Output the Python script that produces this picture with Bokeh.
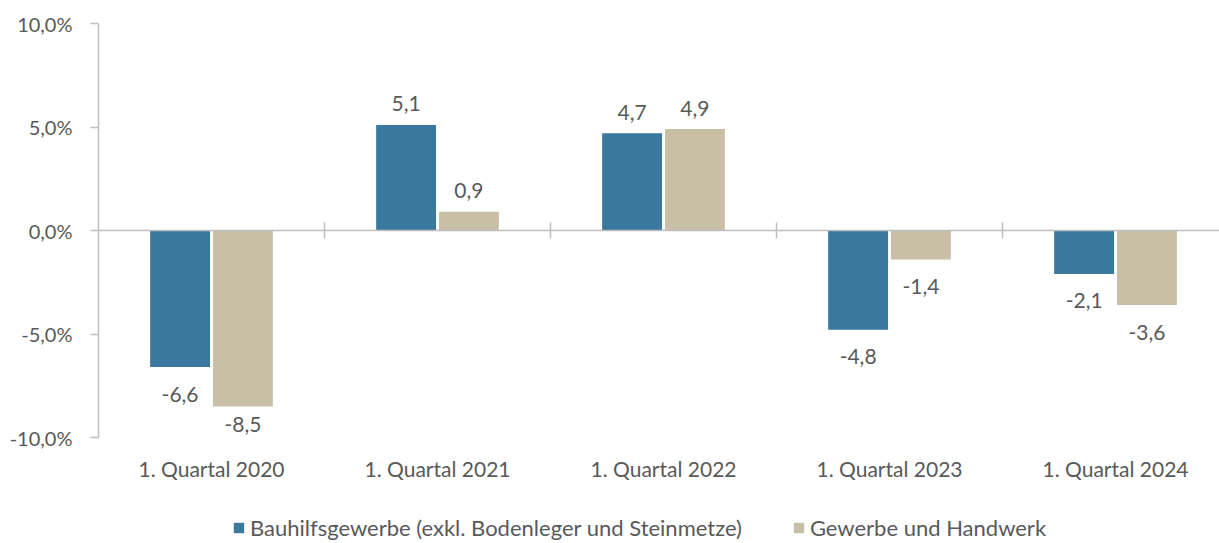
import math
from bokeh.plotting import figure
from bokeh.models import (ColumnDataSource, Range1d, FixedTicker, LabelSet, Legend,
                          LegendItem, Span, LinearAxis)
from bokeh.core.properties import value
from bokeh.embed import file_html
from bokeh.resources import INLINE

# ---- data ----
categories = ["1. Quartal 2020", "1. Quartal 2021", "1. Quartal 2022", "1. Quartal 2023", "1. Quartal 2024"]
series_names = ["Bauhilfsgewerbe (exkl. Bodenleger und Steinmetze)", "Gewerbe und Handwerk"]
bauhilfsgewerbe = [-6.6, 5.1, 4.7, -4.8, -2.1]
gewerbe_handwerk = [-8.5, 0.9, 4.9, -1.4, -3.6]
y_ticks = [-10, -5, 0, 5, 10]

# ---- styling ----
colors = ["#3A789E", "#C9BFA7"]
text_color = "#595959"
grid_color = "#D9D9D9"
axis_color = "#BFBFBF"
font = "Lato"
fsize = "21px"

n = len(categories)
offsets = [-0.139, 0.139]
bar_width = 0.265
y_min, y_max = -10, 10
px_per_unit = 20.7
frame_h = 518                      # frame continues below the axis to host labels + legend
y_frame_bottom = y_max - frame_h / px_per_unit

p = figure(frame_width=1121, frame_height=frame_h,
           x_range=Range1d(0, 4.96), y_range=Range1d(y_frame_bottom, y_max),
           output_backend="svg", toolbar_location=None,
           min_border_left=98, min_border_top=23, min_border_right=0, min_border_bottom=0,
           x_axis_type=None, y_axis_type=None)
p.outline_line_color = None
p.background_fill_color = "white"

# y axis
yaxis = LinearAxis(ticker=FixedTicker(ticks=y_ticks), bounds=(y_min, y_max),
                   major_label_overrides={t: f"{t:.1f}%".replace(".", ",") for t in y_ticks})
yaxis.axis_line_color = axis_color
yaxis.axis_line_width = 1.5
yaxis.major_tick_line_color = axis_color
yaxis.major_tick_line_width = 1.5
yaxis.major_tick_out = 8
yaxis.major_tick_in = 0
yaxis.minor_tick_line_color = None
yaxis.major_label_standoff = 18
yaxis.major_label_text_font = font
yaxis.major_label_text_font_size = "20px"
yaxis.major_label_text_color = text_color
p.add_layout(yaxis, "left")
p.ygrid.grid_line_color = grid_color
p.ygrid.grid_line_width = 1.5

# x axis (category labels), anchored at the bottom of the value range
centers = [i + 0.5 for i in range(n)]
xaxis = LinearAxis(ticker=FixedTicker(ticks=centers), fixed_location=y_min,
                   major_label_overrides={c: lab for c, lab in zip(centers, categories)})
xaxis.axis_line_color = None
xaxis.major_tick_line_color = None
xaxis.minor_tick_line_color = None
xaxis.major_tick_out = 0
xaxis.major_tick_in = 0
xaxis.major_label_standoff = 18
xaxis.major_label_text_font = font
xaxis.major_label_text_font_size = fsize
xaxis.major_label_text_color = text_color
p.add_layout(xaxis, "below")
p.xgrid.grid_line_color = None

# zero line + category separators
p.add_layout(Span(location=0, dimension="width", line_color=axis_color, line_width=1.5))
bounds = [float(i) for i in range(1, n)]
p.scatter(x=bounds, y=[0] * len(bounds), marker="dash", size=16, angle=math.pi / 2,
          line_color=axis_color, line_width=1.5)

renderers = []
for k, (vals, col) in enumerate(zip([bauhilfsgewerbe, gewerbe_handwerk], colors)):
    xs = [i + 0.5 + offsets[k] for i in range(n)]
    yoff = []
    for v in vals:
        if v >= 0:
            yoff.append(21)
        else:
            room = (v - y_min) * px_per_unit - 13
            yoff.append(-min(27, room))
    src = ColumnDataSource(dict(
        x=xs, top=vals,
        label=[f"{v:.1f}".replace(".", ",") for v in vals],
        yoff=yoff,
    ))
    r = p.vbar(x="x", top="top", bottom=0, width=bar_width, source=src,
               fill_color=col, line_color=None)
    renderers.append(r)
    labels = LabelSet(x="x", y="top", text="label", y_offset="yoff", source=src,
                      text_align="center", text_baseline="middle",
                      text_font=value(font), text_font_size=value(fsize), text_color=text_color,
                      background_fill_color="white")
    p.add_layout(labels)

legend = Legend(items=[LegendItem(label=series_names[0], renderers=[renderers[0]]),
                       LegendItem(label=series_names[1], renderers=[renderers[1]])],
                orientation="horizontal", location=(134, 0),
                padding=0, spacing=50, label_standoff=5, margin=0,
                glyph_width=13, glyph_height=13, label_height=20,
                border_line_color=None, background_fill_alpha=0,
                label_text_font=font, label_text_font_size="22px", label_text_color=text_color)
p.add_layout(legend, "center")

open("out.html", "w").write(file_html(p, INLINE))
